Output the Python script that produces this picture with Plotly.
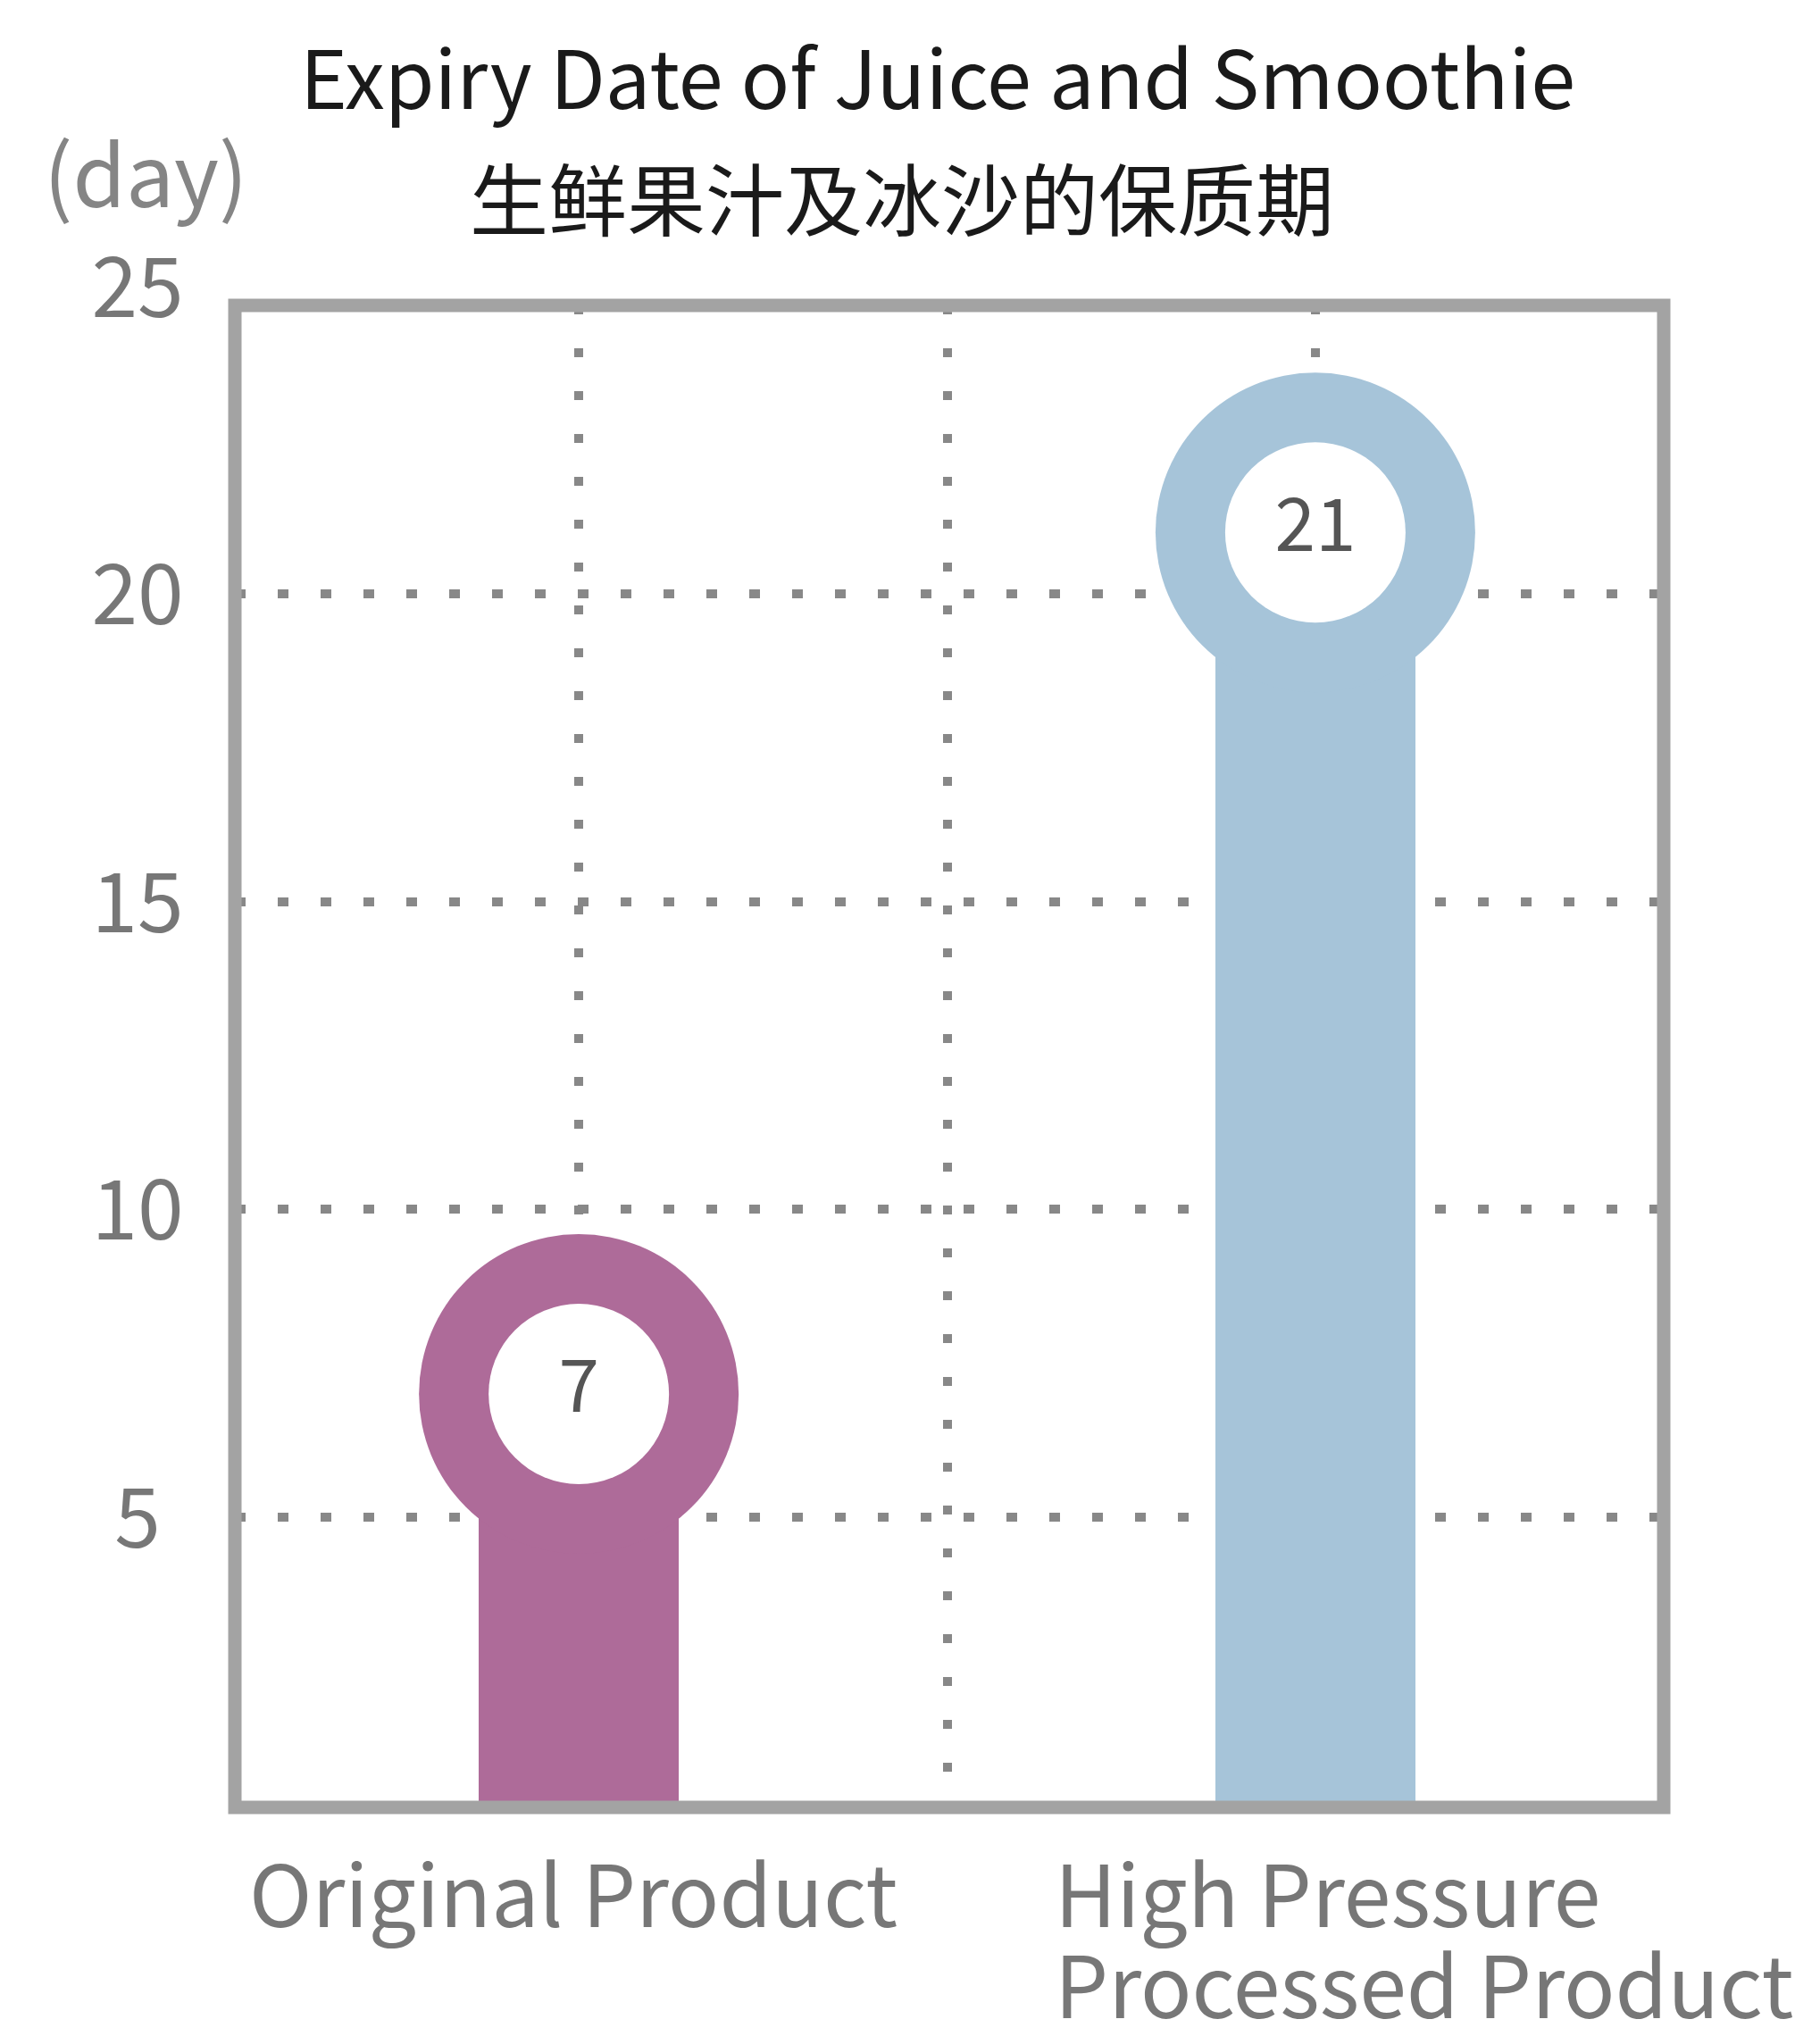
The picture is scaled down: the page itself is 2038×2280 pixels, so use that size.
import plotly.graph_objects as go

# data
categories = ["Original Product", "High Pressure<br>Processed Product"]
shelf_days = [7, 21]
bar_colors = ["#AE6B99", "#A6C4D9"]
y_ticks = [5, 10, 15, 20, 25]

title_en = "Expiry Date of Juice and Smoothie"
title_zh = "生鲜果汁及冰沙的保质期"
unit_label = "(day)"

# canvas / boxes in pixels
W, H = 2038, 2280
PL, PT = 100, 290            # paper area (includes the tick label column)
L, R, T, B = 255, 1855, 334, 2016   # framed plot box
PW, PH = R - PL, B - PT
X_RANGE = [-0.467, 1.473]
Y_RANGE = [0.28, 24.69]

FONT = "Noto Sans CJK SC"
GRID = "#888888"
FRAME = "#a3a3a3"
TXT = "#777777"


def px_x(px):
    return (px - PL) / PW


def px_y(py):
    return (B - py) / PH


xs = list(range(len(categories)))

# a second, invisible axis pair carries the y tick labels so that "25"
# (above the frame) can be shown; it shares the main y scale
y_ppu = (B - T) / (Y_RANGE[1] - Y_RANGE[0])
label_drop = 11 / y_ppu
y2_range = [Y_RANGE[0] + label_drop, Y_RANGE[0] + label_drop + PH / y_ppu]
x_lab = (146 - PL) / (L - PL)

fig = go.Figure()

# stems
fig.add_trace(go.Bar(
    x=xs, y=shelf_days, width=0.272,
    marker=dict(color=bar_colors, line=dict(width=0)),
    hoverinfo="skip",
))
# rings
fig.add_trace(go.Scatter(
    x=xs, y=shelf_days, mode="markers",
    marker=dict(size=358, color=bar_colors, line=dict(width=0)),
    hoverinfo="skip",
))
# white centre + value
fig.add_trace(go.Scatter(
    x=xs, y=shelf_days, mode="markers+text",
    marker=dict(size=202, color="white", line=dict(width=0)),
    text=[str(v) for v in shelf_days],
    textposition="middle center",
    textfont=dict(family=FONT, size=82, color="#555555"),
    hoverinfo="skip",
))
# y tick labels
fig.add_trace(go.Scatter(
    x=[x_lab] * len(y_ticks), y=y_ticks, mode="text", xaxis="x2", yaxis="y2",
    text=[str(v) for v in y_ticks], textposition="middle center",
    textfont=dict(family=FONT, size=93, color=TXT),
    cliponaxis=False, hoverinfo="skip",
))

annotations = []

# category labels
for i, lab in enumerate(categories):
    lines = lab.split("<br>")
    for j, line in enumerate(lines):
        a = dict(
            x=i, xref="x", y=px_y(2108 + j * 102), yref="paper",
            text=line, showarrow=False, yanchor="middle",
            font=dict(family=FONT, size=95, color=TXT),
        )
        if len(lines) > 1:
            a.update(xanchor="left", xshift=-294)
        else:
            a.update(xanchor="center", xshift=-6)
        annotations.append(a)

# titles and unit
annotations += [
    dict(x=px_x(1042), y=px_y(75), xref="paper", yref="paper", text=title_en,
         showarrow=False, xanchor="center", yanchor="middle",
         font=dict(family=FONT, size=90, color="#1a1a1a")),
    dict(x=px_x(1002), y=px_y(210), xref="paper", yref="paper", text=title_zh,
         showarrow=False, xanchor="center", yanchor="middle",
         font=dict(family=FONT, size=88, color="#1a1a1a")),
    dict(x=px_x(155), y=px_y(182), xref="paper", yref="paper", text=unit_label,
         showarrow=False, xanchor="center", yanchor="middle",
         font=dict(family=FONT, size=96, color="#858585")),
]

fig.update_layout(
    width=W, height=H,
    margin=dict(l=PL, r=W - R, t=PT, b=H - B, pad=0),
    paper_bgcolor="white", plot_bgcolor="white",
    showlegend=False,
    bargap=0,
    annotations=annotations,
    shapes=[dict(type="rect", xref="x domain", yref="y domain",
                 x0=0, x1=1, y0=0, y1=1,
                 line=dict(color=FRAME, width=15), fillcolor="rgba(0,0,0,0)",
                 layer="above")],
    xaxis=dict(
        domain=[px_x(L), 1], anchor="y",
        range=X_RANGE, tickvals=xs, showticklabels=False,
        showgrid=True, gridcolor=GRID, gridwidth=10, griddash="10px,38px",
        minor=dict(tickvals=[0.5], showgrid=True, gridcolor=GRID, gridwidth=10,
                   griddash="10px,38px"),
        zeroline=False, showline=False, ticks="",
    ),
    yaxis=dict(
        domain=[0, px_y(T)], anchor="x",
        range=Y_RANGE, tickvals=y_ticks[:-1], showticklabels=False,
        showgrid=True, gridcolor=GRID, gridwidth=10, griddash="12px,36px",
        zeroline=False, showline=False, ticks="",
    ),
    xaxis2=dict(domain=[0, px_x(L)], anchor="y2", range=[0, 1], visible=False),
    yaxis2=dict(domain=[0, 1], anchor="x2", range=y2_range, visible=False),
)

fig.write_html("out.html")
